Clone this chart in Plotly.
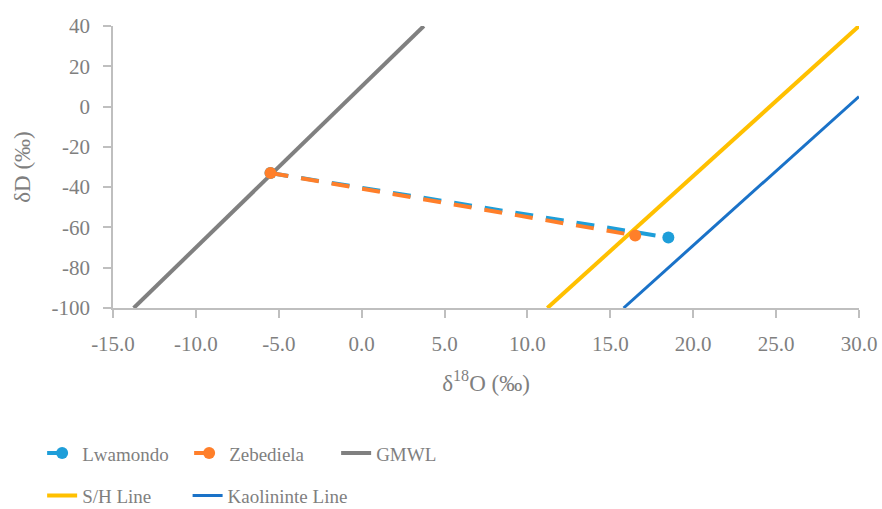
import plotly.graph_objects as go

# Data
lwamondo_x = [-5.5, 18.5]
lwamondo_y = [-33, -65]
zebediela_x = [-5.5, 16.5]
zebediela_y = [-33, -64]
gmwl_x = [-13.75, 3.75]
gmwl_y = [-100, 40]
sh_x = [11.2, 30.0]
sh_y = [-100, 40]
kaol_x = [15.8, 30.0]
kaol_y = [-100, 5]

x_ticks = [-15, -10, -5, 0, 5, 10, 15, 20, 25, 30]
x_labels = ["-15.0", "-10.0", "-5.0", "0.0", "5.0", "10.0", "15.0", "20.0", "25.0", "30.0"]
y_ticks = [-100, -80, -60, -40, -20, 0, 20, 40]
y_labels = ["-100", "-80", "-60", "-40", "-20", "0", "20", "40"]

FONT = "Liberation Serif"
GRAY = "#7f7f7f"

fig = go.Figure()
fig.add_trace(go.Scatter(x=gmwl_x, y=gmwl_y, mode="lines", name="GMWL",
                         line=dict(color="#808080", width=4), legend="legend", legendrank=3))
fig.add_trace(go.Scatter(x=sh_x, y=sh_y, mode="lines", name="S/H Line",
                         line=dict(color="#FFC000", width=4), legend="legend2", legendrank=4))
fig.add_trace(go.Scatter(x=kaol_x, y=kaol_y, mode="lines", name="Kaolininte Line",
                         line=dict(color="#1A72C8", width=3), legend="legend3", legendrank=5))
fig.add_trace(go.Scatter(x=lwamondo_x, y=lwamondo_y, mode="lines+markers", name="Lwamondo",
                         line=dict(color="#1E9ED9", width=4, dash="18px,13px"),
                         marker=dict(size=12, color="#1E9ED9"), legend="legend", legendrank=1))
fig.add_trace(go.Scatter(x=zebediela_x, y=zebediela_y, mode="lines+markers", name="Zebediela",
                         line=dict(color="#FF7F2A", width=4, dash="18px,13px"),
                         marker=dict(size=12, color="#FF7F2A"), legend="legend", legendrank=2))

def leg(x, y, ew):
    return dict(x=x, y=y, orientation="h", xanchor="left", yanchor="middle",
                font=dict(family=FONT, size=19, color=GRAY),
                entrywidth=ew, entrywidthmode="pixels",
                traceorder="normal", bgcolor="rgba(0,0,0,0)", itemclick=False)

# paper coordinates: plot area x 113..859 (746px), y 26..308 (282px)
fig.update_layout(
    width=882, height=509,
    margin=dict(l=113, r=23, t=26, b=201, autoexpand=False),
    plot_bgcolor="white", paper_bgcolor="white",
    font=dict(family=FONT, size=20, color=GRAY),
    showlegend=True,
    legend=leg(-0.095, -0.515, 102),
    legend2=leg(-0.095, -0.665, 0),
    legend3=leg(0.1, -0.665, 0),
    xaxis=dict(range=[-15, 30], tickvals=x_ticks, ticktext=x_labels, automargin=False,
               showgrid=False, zeroline=False, showline=True, linecolor="#bfbfbf", linewidth=1.5,
               ticks="outside", ticklen=8, tickcolor="#bfbfbf", tickwidth=1.5,
               tickfont=dict(family=FONT, size=21, color=GRAY), ticklabelstandoff=8,
               title=dict(text="δ<sup>18</sup>O (‰)", font=dict(family=FONT, size=23, color=GRAY), standoff=20)),
    yaxis=dict(range=[-100, 40], tickvals=y_ticks, ticktext=y_labels, automargin=False,
               showgrid=False, zeroline=False, showline=True, linecolor="#bfbfbf", linewidth=1.5,
               ticks="outside", ticklen=8, tickcolor="#bfbfbf", tickwidth=1.5,
               tickfont=dict(family=FONT, size=21, color=GRAY), ticklabelstandoff=9,
               title=dict(text="δD (‰)", font=dict(family=FONT, size=23, color=GRAY), standoff=14)),
)

fig.write_html("out.html")
